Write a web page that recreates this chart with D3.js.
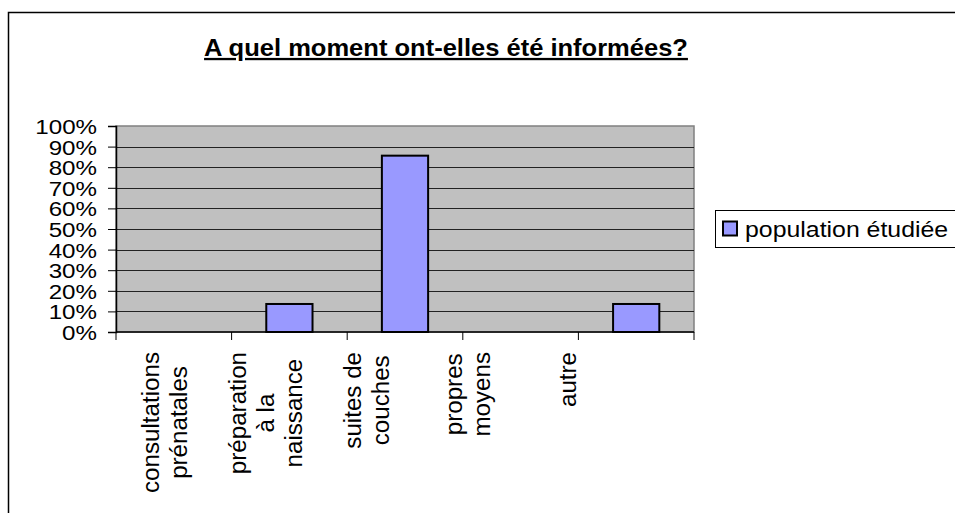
<!DOCTYPE html>
<html>
<head>
<meta charset="utf-8">
<script src="https://cdn.jsdelivr.net/npm/d3@7"></script>
<style>
  body { margin: 0; background: #fff; }
  svg { display: block; font-family: "Liberation Sans", Arial, sans-serif; }
</style>
</head>
<body>
<div id="chart"></div>
<script>
// Data
const categories = ["consultations prénatales", "préparation à la naissance", "suites de couches", "propres moyens", "autre"];
const categoryLines = [["consultations", "prénatales"], ["préparation", "à la", "naissance"], ["suites de", "couches"], ["propres", "moyens"], ["autre"]];
const values = [0, 13.6, 85.6, 0, 13.6];
const yTicks = [0, 10, 20, 30, 40, 50, 60, 70, 80, 90, 100];
const seriesName = "population étudiée";
const title = "A quel moment ont-elles été informées?";

// Dimensions
const W = 955, H = 513;
const plot = {left: 116, right: 694, top: 126, bottom: 332};
const sx = 1.15; // glyphs in the reference are wider than Liberation Sans

const svg = d3.select("#chart").append("svg")
    .attr("width", W)
    .attr("height", H);

// outer frame (only left and top visible)
svg.append("path")
    .attr("d", `M8.5,${H} L8.5,12.5 L${W},12.5`)
    .attr("fill", "none")
    .attr("stroke", "#000")
    .attr("stroke-width", 1.5);

// title
svg.append("text")
    .attr("transform", `translate(446,56) scale(1.11,1)`)
    .attr("text-anchor", "middle")
    .attr("font-size", 23)
    .attr("font-weight", "bold")
    .attr("text-decoration", "underline")
    .text(title);

// Scales
const x = d3.scaleBand()
    .domain(categories)
    .range([plot.left, plot.right]);

const y = d3.scaleLinear()
    .domain([0, 100])
    .range([plot.bottom, plot.top]);

// label positions are spaced a bit tighter than the bands in the reference
const labelX = d3.scalePoint()
    .domain(categories)
    .range([165, 568]);

// plot background
svg.append("rect")
    .attr("x", plot.left)
    .attr("y", plot.top)
    .attr("width", plot.right - plot.left)
    .attr("height", plot.bottom - plot.top)
    .attr("fill", "#c0c0c0")
    .attr("stroke", "#808080")
    .attr("stroke-width", 1.5);

// gridlines
svg.append("g")
    .selectAll("line")
    .data(yTicks.slice(1, -1))
    .enter().append("line")
    .attr("x1", plot.left)
    .attr("x2", plot.right)
    .attr("y1", d => Math.round(y(d)) + 0.5)
    .attr("y2", d => Math.round(y(d)) + 0.5)
    .attr("stroke", "#222")
    .attr("stroke-width", 1);

// bars (gap width 150% -> bar is 40% of the band)
const barW = x.bandwidth() * 0.4;
svg.append("g")
    .selectAll("rect")
    .data(categories.map((c, i) => ({c, v: values[i]})).filter(d => d.v > 0))
    .enter().append("rect")
    .attr("x", d => x(d.c) + (x.bandwidth() - barW) / 2)
    .attr("y", d => y(d.v))
    .attr("width", barW)
    .attr("height", d => y(0) - y(d.v))
    .attr("fill", "#9999ff")
    .attr("stroke", "#000")
    .attr("stroke-width", 2);

// y axis
const yAxis = svg.append("g")
    .attr("transform", `translate(${plot.left},0)`)
    .call(d3.axisLeft(y).tickValues(yTicks).tickSize(8).tickFormat(d => d + "%"));
yAxis.select(".domain").attr("stroke", "#000").attr("stroke-width", 1.5);
yAxis.selectAll(".tick line").attr("stroke", "#000");
yAxis.selectAll(".tick text")
    .attr("x", 0)
    .attr("dy", "0.36em")
    .attr("font-size", 21)
    .attr("font-family", "Liberation Sans, Arial, sans-serif")
    .attr("fill", "#000")
    .attr("transform", `translate(-19,0) scale(${sx},1)`);

// x axis, ticks at band boundaries
const xAxis = svg.append("g")
    .attr("transform", `translate(0,${plot.bottom})`);
xAxis.append("line")
    .attr("x1", plot.left)
    .attr("x2", plot.right)
    .attr("stroke", "#000")
    .attr("stroke-width", 1.5);
xAxis.selectAll(".xtick")
    .data(categories.concat([null]))
    .enter().append("line")
    .attr("x1", d => d === null ? plot.right : x(d))
    .attr("x2", d => d === null ? plot.right : x(d))
    .attr("y2", 8)
    .attr("stroke", "#000");

// category labels, rotated, top aligned
const lineGap = 28;
const lx = 1.05;
categories.forEach((c, i) => {
  const lines = categoryLines[i];
  const g = svg.append("g");
  const texts = lines.map(t => g.append("text")
      .attr("font-size", 23)
      .attr("text-anchor", "middle")
      .attr("dy", "0.36em")
      .text(t));
  const maxLen = d3.max(texts, t => t.node().getComputedTextLength()) * lx;
  const cy = 352 + maxLen / 2;
  texts.forEach((t, j) => {
    const cx = labelX(c) + (j - (lines.length - 1) / 2) * lineGap;
    t.attr("transform", `translate(${cx},${cy}) rotate(-90) scale(${lx},1)`);
  });
});

// legend
const legend = svg.append("g");
legend.append("rect")
    .attr("x", 715.5)
    .attr("y", 210.5)
    .attr("width", 260)
    .attr("height", 37)
    .attr("fill", "#fff")
    .attr("stroke", "#000")
    .attr("stroke-width", 1);
legend.append("rect")
    .attr("x", 723)
    .attr("y", 221.5)
    .attr("width", 14)
    .attr("height", 14)
    .attr("fill", "#9999ff")
    .attr("stroke", "#000")
    .attr("stroke-width", 2);
legend.append("text")
    .attr("transform", `translate(745,236.5) scale(1.13,1)`)
    .attr("font-size", 22)
    .text(seriesName);
</script>
</body>
</html>
